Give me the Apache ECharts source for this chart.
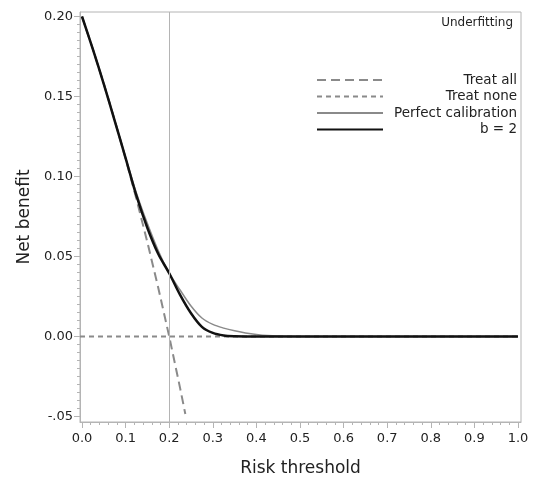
<!DOCTYPE html>
<html>
<head>
<meta charset="utf-8">
<script src="https://cdn.jsdelivr.net/npm/echarts@6/dist/echarts.min.js"></script>
<style>
  html, body { margin: 0; padding: 0; background: #fff; }
  #chart { width: 534px; height: 482px; }
</style>
</head>
<body>
<div id="chart"></div>
<script>
// risk thresholds for the model curves
const thresholds = [0, 0.025, 0.05, 0.075, 0.1, 0.125, 0.15, 0.175, 0.2, 0.225, 0.25, 0.275,
  0.3, 0.325, 0.35, 0.375, 0.4, 0.425, 0.45, 0.5, 0.6, 0.7, 0.8, 0.9, 1.0]
const perfectCalibration = [0.200, 0.1795, 0.158, 0.1353, 0.1118, 0.0895, 0.0705, 0.0535, 0.0395, 0.029, 0.019, 0.0115,
  0.0075, 0.0052, 0.0035, 0.0022, 0.0012, 0.0005, 0.0002, 0, 0, 0, 0, 0, 0]
const underfitB2 = [0.200, 0.1795, 0.1577, 0.1348, 0.1115, 0.0878, 0.0678, 0.0515, 0.0395, 0.026, 0.0145, 0.006,
  0.0022, 0.0006, 0.0001, 0, 0, 0, 0, 0, 0, 0, 0, 0, 0]
// treat all line (ends just below the axis floor)
const treatAllX = [0, 0.025, 0.05, 0.075, 0.1, 0.125, 0.15, 0.175, 0.2, 0.225, 0.237]
const treatAllY = [0.2, 0.1795, 0.1579, 0.1351, 0.1111, 0.0857, 0.0588, 0.0303, 0, -0.0323, -0.0485]
const treatNoneX = [-0.0046, 1.0069]
const treatNoneY = [0, 0]

const xTicks = [0, 0.1, 0.2, 0.3, 0.4, 0.5, 0.6, 0.7, 0.8, 0.9, 1.0]
const yTicks = [-0.05, 0, 0.05, 0.10, 0.15, 0.20]
const cutoff = 0.2

const xMinor = []
for (let i = 0; i <= 50; i++) xMinor.push(+(i * 0.02).toFixed(2))
const yMinor = []
for (let i = -10; i <= 40; i++) yMinor.push(+(i * 0.005).toFixed(3))

const zip = (xs, ys) => xs.map((x, i) => [x, ys[i]])

const font = 'DejaVu Sans'
const axisGray = '#b4b4b4'
const xMin = -0.0046, xMax = 1.0069
const yMin = -0.0535, yMax = 0.2028

function xAxisDef(major) {
  return {
    type: 'value', min: xMin, max: xMax, position: 'bottom',
    splitLine: { show: false },
    axisLine: { show: major, onZero: false, lineStyle: { color: axisGray } },
    axisTick: { show: true, customValues: major ? xTicks : xMinor, length: major ? 6 : 3, lineStyle: { color: axisGray } },
    axisLabel: {
      show: major, customValues: xTicks, margin: 10, color: '#222', fontFamily: font, fontSize: 13,
      formatter: v => v.toFixed(1)
    },
    name: major ? 'Risk threshold' : '', nameLocation: 'middle', nameGap: 38,
    nameTextStyle: { fontFamily: font, fontSize: 17, color: '#222' }
  }
}
function yAxisDef(major) {
  return {
    type: 'value', min: yMin, max: yMax, position: 'left',
    splitLine: { show: false },
    axisLine: { show: major, onZero: false, lineStyle: { color: axisGray } },
    axisTick: { show: true, customValues: major ? yTicks : yMinor, length: major ? 6 : 3, lineStyle: { color: axisGray } },
    axisLabel: {
      show: major, customValues: yTicks, margin: 7, color: '#222', fontFamily: font, fontSize: 13,
      formatter: v => (Math.abs(v + 0.05) < 1e-9 ? '-.05' : v.toFixed(2))
    },
    name: major ? 'Net benefit' : '', nameLocation: 'middle', nameGap: 47,
    nameTextStyle: { fontFamily: font, fontSize: 17, color: '#222' }
  }
}

const chart = echarts.init(document.getElementById('chart'))
chart.setOption({
  animation: false,
  backgroundColor: '#fff',
  title: {
    text: 'Underfitting', right: 21, top: 17, padding: 0,
    textStyle: { fontFamily: font, fontSize: 12, fontWeight: 'normal', color: '#222' }
  },
  grid: { left: 80, right: 13, top: 12, bottom: 60, show: true, borderColor: axisGray, borderWidth: 1 },
  legend: {
    orient: 'vertical', left: 316, top: 73, padding: 0, itemWidth: 66, itemHeight: 14, itemGap: 2.5,
    itemStyle: { opacity: 0 },
    data: ['Treat all', 'Treat none', 'Perfect calibration', 'b = 2'],
    formatter: name => '{a|' + name + '}',
    textStyle: {
      rich: { a: { width: 129, align: 'right', fontFamily: font, fontSize: 13.5, color: '#222', lineHeight: 14 } }
    }
  },
  xAxis: [xAxisDef(true), xAxisDef(false)],
  yAxis: [yAxisDef(true), yAxisDef(false)],
  series: [
    {
      name: 'Treat all', type: 'line', data: zip(treatAllX, treatAllY), symbol: 'none', z: 2,
      lineStyle: { color: '#8a8a8a', width: 2, type: [9, 5] }, itemStyle: { color: '#8a8a8a' },
      markLine: {
        silent: true, symbol: 'none', label: { show: false },
        lineStyle: { color: '#b4b4b4', width: 1, type: 'solid' },
        data: [{ xAxis: cutoff }]
      }
    },
    {
      name: 'Treat none', type: 'line', data: zip(treatNoneX, treatNoneY), symbol: 'none', z: 2,
      lineStyle: { color: '#8a8a8a', width: 2, type: [5, 4] }, itemStyle: { color: '#8a8a8a' }
    },
    {
      name: 'Perfect calibration', type: 'line', data: zip(thresholds, perfectCalibration), symbol: 'none',
      smooth: 0.3, z: 3,
      lineStyle: { color: '#8a8a8a', width: 1.5 }, itemStyle: { color: '#8a8a8a' }
    },
    {
      name: 'b = 2', type: 'line', data: zip(thresholds, underfitB2), symbol: 'none',
      smooth: 0.3, z: 4,
      lineStyle: { color: '#111', width: 2.5 }, itemStyle: { color: '#111' }
    }
  ]
})
</script>
</body>
</html>
